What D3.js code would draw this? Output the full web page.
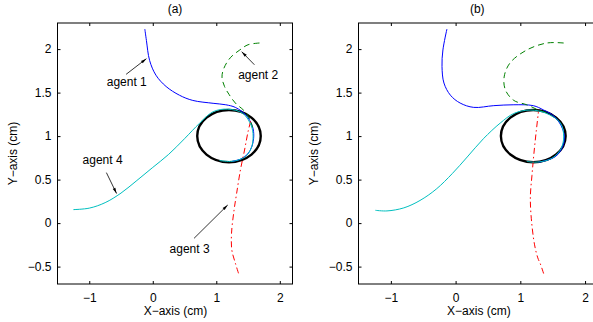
<!DOCTYPE html>
<html>
<head>
<meta charset="utf-8">
<script src="https://cdn.jsdelivr.net/npm/d3@7"></script>
<style>
  body { margin: 0; background: #fff; }
  svg { display: block; font-family: "Liberation Sans", Arial, sans-serif; }
</style>
</head>
<body>
<div id="chart"></div>
<script>
// axis ticks
var xTicks = [-1, 0, 1, 2];
var yTicks = [-0.5, 0, 0.5, 1, 1.5, 2];
var xDomain = [-1.5, 2.2];
var yDomain = [-0.7, 2.3];

// obstacle (ellipse): center and semi-axes
var obstacle = { cx: 1.2, cy: 1.0, rx: 0.5, ry: 0.3 };

// panel (a) trajectories
var a_agent1 = [[-0.125,2.23],[-0.10,2.10],[-0.05,1.87],[0.05,1.70],[0.21,1.57],[0.42,1.47],[0.63,1.41],[0.95,1.377],[1.15,1.36],[1.30,1.33],[1.47,1.24],[1.57,1.11],[1.59,1.0],[1.56,0.88],[1.49,0.79],[1.38,0.735],[1.25,0.71]];
var a_agent2 = [[1.68,2.07],[1.50,2.05],[1.37,1.99],[1.22,1.90],[1.12,1.78],[1.09,1.68],[1.13,1.57],[1.20,1.48],[1.30,1.38],[1.44,1.29],[1.53,1.19],[1.57,1.10]];
var a_agent3 = [[1.35,-0.577],[1.30,-0.46],[1.245,-0.31],[1.24,-0.117],[1.28,0.15],[1.32,0.34],[1.38,0.61],[1.445,0.84],[1.50,1.05],[1.55,1.2]];
var a_agent4 = [[-1.25,0.155],[-1.0,0.172],[-0.75,0.235],[-0.5,0.345],[-0.25,0.49],[0,0.64],[0.25,0.79],[0.5,0.97],[0.74,1.15],[0.95,1.28],[1.18,1.31],[1.42,1.26],[1.55,1.12],[1.58,1.0],[1.55,0.86],[1.45,0.76],[1.25,0.71],[1.05,0.72]];

// panel (b) trajectories
var b_agent1 = [[-0.134,2.23],[-0.196,1.99],[-0.21,1.80],[-0.18,1.61],[-0.08,1.47],[0.07,1.38],[0.28,1.33],[0.59,1.35],[0.9,1.36],[1.2,1.35],[1.36,1.30],[1.52,1.23],[1.63,1.12],[1.68,1.0],[1.65,0.87],[1.55,0.77],[1.40,0.72],[1.28,0.70]];
var b_agent2 = [[1.67,2.07],[1.41,2.07],[1.10,1.99],[0.84,1.84],[0.75,1.68],[0.77,1.53],[0.9,1.41],[1.10,1.36],[1.28,1.30],[1.40,1.27]];
var b_agent3 = [[1.36,-0.58],[1.31,-0.47],[1.27,-0.40],[1.22,-0.25],[1.17,0.05],[1.155,0.30],[1.18,0.55],[1.21,0.80],[1.245,1.05],[1.28,1.28]];
var b_agent4 = [[-1.24,0.147],[-1.06,0.14],[-0.80,0.175],[-0.55,0.26],[-0.30,0.39],[-0.05,0.57],[0.18,0.76],[0.43,0.97],[0.69,1.15],[0.90,1.26],[1.15,1.30],[1.41,1.26],[1.62,1.15],[1.67,0.99],[1.63,0.86],[1.52,0.76],[1.38,0.715],[1.22,0.70],[1.10,0.71]];

// annotations for panel (a): label position and arrow (from -> to), data units
var annotations = [
  { text: "agent 1", at: [-0.41, 1.62], from: [-0.42, 1.71], to: [-0.10, 1.89] },
  { text: "agent 2", at: [1.66, 1.70], from: [1.60, 1.82], to: [1.40, 1.97] },
  { text: "agent 4", at: [-0.79, 0.73], from: [-0.73, 0.58], to: [-0.57, 0.34] },
  { text: "agent 3", at: [0.58, -0.30], from: [0.65, -0.175], to: [1.18, 0.208] }
];

var styles = {
  agent1: { color: "#0000ff", dash: null },
  agent2: { color: "#008000", dash: "6,4" },
  agent3: { color: "#ff0000", dash: "6,3,1.5,3" },
  agent4: { color: "#00bfbf", dash: null }
};

var W = 593, H = 322;
var svg = d3.select("#chart").append("svg").attr("width", W).attr("height", H);

svg.append("defs").append("marker")
  .attr("id", "arrow").attr("viewBox", "0 0 12 10")
  .attr("refX", 12).attr("refY", 5)
  .attr("markerWidth", 9).attr("markerHeight", 6)
  .attr("orient", "auto")
  .append("path").attr("d", "M0,2 L12,5 L0,8 Z").attr("fill", "#000");

function panel(left, width, title, tracks, notes) {
  var top = 23, height = 261;
  var x = d3.scaleLinear().domain(xDomain).range([left, left + width]);
  var y = d3.scaleLinear().domain(yDomain).range([top + height, top]);
  var g = svg.append("g");

  var clip = "clip" + title.replace(/\W/g, "");
  g.append("clipPath").attr("id", clip).append("rect")
    .attr("x", left).attr("y", top).attr("width", width).attr("height", height);

  var plot = g.append("g").attr("clip-path", "url(#" + clip + ")");

  plot.append("ellipse")
    .attr("cx", x(obstacle.cx)).attr("cy", y(obstacle.cy))
    .attr("rx", x(obstacle.cx + obstacle.rx) - x(obstacle.cx))
    .attr("ry", y(obstacle.cy) - y(obstacle.cy + obstacle.ry))
    .attr("fill", "none").attr("stroke", "#000").attr("stroke-width", 2.4);

  var line = d3.line().x(function(d){ return x(d[0]); }).y(function(d){ return y(d[1]); })
    .curve(d3.curveCatmullRom.alpha(0.5));

  tracks.forEach(function(t) {
    plot.append("path").datum(t.data).attr("d", line)
      .attr("fill", "none").attr("stroke", t.style.color).attr("stroke-width", 1)
      .attr("stroke-dasharray", t.style.dash);
  });

  // axes with inward ticks on all sides
  var tl = 3;
  g.append("g").attr("transform", "translate(0," + (top + height) + ")")
    .call(d3.axisBottom(x).tickValues(xTicks).tickSizeInner(-tl).tickSizeOuter(0).tickPadding(9).tickFormat(d3.format("d")));
  g.append("g").attr("transform", "translate(0," + top + ")")
    .call(d3.axisTop(x).tickValues(xTicks).tickSizeInner(-tl).tickSizeOuter(0).tickFormat(""));
  g.append("g").attr("transform", "translate(" + left + ",0)")
    .call(d3.axisLeft(y).tickValues(yTicks).tickSizeInner(-tl).tickSizeOuter(0).tickPadding(6)
      .tickFormat(function(d){ return (d < 0 ? "\u2212" : "") + Math.abs(d); }));
  g.append("g").attr("transform", "translate(" + (left + width) + ",0)")
    .call(d3.axisRight(y).tickValues(yTicks).tickSizeInner(-tl).tickSizeOuter(0).tickFormat(""));

  g.selectAll(".domain").remove();
  g.selectAll(".tick line").attr("stroke", "#000");
  g.selectAll(".tick text").attr("font-size", 12).attr("fill", "#000")
    .attr("font-family", "Liberation Sans, Arial, sans-serif");

  g.append("rect").attr("x", left).attr("y", top).attr("width", width).attr("height", height)
    .attr("fill", "none").attr("stroke", "#000").attr("stroke-width", 1);

  g.append("text").attr("x", left + width / 2 + (title === "(b)" ? -1 : 0)).attr("y", 13)
    .attr("text-anchor", "middle").attr("font-size", 12).text(title);
  g.append("text").attr("x", x(0.5) - 9).attr("y", 315)
    .attr("text-anchor", "middle").attr("font-size", 12).text("X\u2212axis (cm)");
  g.append("text").attr("transform", "translate(" + (left - 41) + "," + (top + height / 2) + ") rotate(-90)")
    .attr("text-anchor", "middle").attr("font-size", 12).text("Y\u2212axis (cm)");

  notes.forEach(function(n) {
    g.append("line")
      .attr("x1", x(n.from[0])).attr("y1", y(n.from[1]))
      .attr("x2", x(n.to[0])).attr("y2", y(n.to[1]))
      .attr("stroke", "#000").attr("stroke-width", 0.8).attr("marker-end", "url(#arrow)");
    g.append("text").attr("x", x(n.at[0])).attr("y", y(n.at[1]))
      .attr("dy", "0.35em").attr("text-anchor", "middle").attr("font-size", 12).text(n.text);
  });
}

panel(57.5, 235, "(a)", [
  { data: a_agent1, style: styles.agent1 },
  { data: a_agent2, style: styles.agent2 },
  { data: a_agent3, style: styles.agent3 },
  { data: a_agent4, style: styles.agent4 }
], annotations);

panel(358.5, 239.5, "(b)", [
  { data: b_agent1, style: styles.agent1 },
  { data: b_agent2, style: styles.agent2 },
  { data: b_agent3, style: styles.agent3 },
  { data: b_agent4, style: styles.agent4 }
], []);
</script>
</body>
</html>
